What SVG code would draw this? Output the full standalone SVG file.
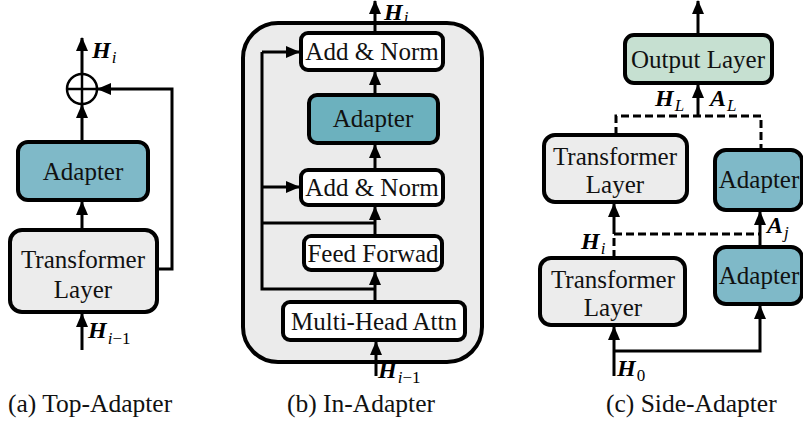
<svg xmlns="http://www.w3.org/2000/svg" width="803" height="423" viewBox="0 0 803 423">
<defs>
<marker id="ah" markerUnits="userSpaceOnUse" markerWidth="14" markerHeight="12" refX="13" refY="6" orient="auto">
<path d="M0,0 L14,6 L0,12 z" fill="#000"/>
</marker>
<style>
.box{stroke:#000;stroke-width:4}
.gray{fill:#ececec}
.white{fill:#fff}
.teal{fill:#7fb9c8}
.tealb{fill:#6cb1be}
.green{fill:#c6e0d1}
.t{font-family:"Liberation Serif","Times New Roman",serif;font-size:25px;fill:#111;text-anchor:middle}
.cap{font-family:"Liberation Serif","Times New Roman",serif;font-size:25.5px;fill:#111}
.m{font-family:"Liberation Serif","Times New Roman",serif;font-size:24px;font-weight:bold;font-style:italic;fill:#000}
.s{font-size:17px;font-weight:normal}
.ln{fill:none;stroke:#000;stroke-width:3}
.arr{fill:none;stroke:#000;stroke-width:3;marker-end:url(#ah)}
.dash{fill:none;stroke:#000;stroke-width:3;stroke-dasharray:8 4}
</style>
</defs>
<rect width="803" height="423" fill="#fff"/>

<!-- Panel a -->
<g id="a-transformer"><rect class="box gray" x="10" y="230" width="147" height="82" rx="12"/><text class="t" x="83" y="268">Transformer</text><text class="t" x="83" y="298">Layer</text></g>
<g id="a-adapter"><rect class="box teal" x="18" y="142" width="130" height="58" rx="10"/><text class="t" x="83" y="180">Adapter</text></g>
<g id="a-plus"><circle cx="82" cy="89" r="15" fill="#fff" stroke="#000" stroke-width="2.5"/><path d="M67,89 H97 M82,74 V104" stroke="#000" stroke-width="2.5"/></g>

<!-- Panel b -->
<g id="b-outer"><rect class="box" fill="#ebebeb" x="243" y="23" width="239" height="339" rx="35"/></g>
<g id="b-addnorm2"><rect class="box white" x="301" y="33" width="142" height="37" rx="7"/><text class="t" x="372" y="60">Add &amp; Norm</text></g>
<g id="b-adapter"><rect class="box tealb" x="309" y="95" width="129" height="48" rx="8"/><text class="t" x="373" y="127">Adapter</text></g>
<g id="b-addnorm1"><rect class="box white" x="301" y="170" width="142" height="35" rx="7"/><text class="t" x="372" y="196">Add &amp; Norm</text></g>
<g id="b-ff"><rect class="box white" x="304" y="236" width="138" height="34" rx="7"/><text class="t" x="373" y="262">Feed Forwad</text></g>
<g id="b-mha"><rect class="box white" x="283" y="302" width="182" height="38" rx="7"/><text class="t" x="374" y="330">Multi-Head Attn</text></g>

<!-- Panel c -->
<g id="c-output"><rect class="box green" x="625" y="35" width="147" height="48" rx="9"/><text class="t" x="698" y="68">Output Layer</text></g>
<g id="c-trans2"><rect class="box gray" x="544" y="135" width="143" height="67" rx="11"/><text class="t" x="615" y="165">Transformer</text><text class="t" x="615" y="193">Layer</text></g>
<g id="c-adapter2"><rect class="box teal" x="715" y="150" width="87" height="60" rx="11"/><text class="t" x="759" y="188">Adapter</text></g>
<g id="c-trans1"><rect class="box gray" x="540" y="258" width="145" height="67" rx="11"/><text class="t" x="613" y="288">Transformer</text><text class="t" x="613" y="316">Layer</text></g>
<g id="c-adapter1"><rect class="box teal" x="715" y="247" width="87" height="57" rx="11"/><text class="t" x="759" y="284">Adapter</text></g>

<g id="connectors">
<!-- a -->
<path class="arr" d="M82,350 V314"/>
<path class="arr" d="M82,230 V202"/>
<path class="arr" d="M82,142 V105"/>
<path class="arr" d="M82,74 V38"/>
<path class="arr" d="M157,269 H172 V89 H98"/>
<!-- b -->
<path class="arr" d="M376,376 V342"/>
<path class="arr" d="M375,302 V272"/>
<path class="arr" d="M375,236 V207"/>
<path class="arr" d="M375,170 V145"/>
<path class="arr" d="M375,95 V72"/>
<path class="arr" d="M375,33 V1"/>
<path class="ln" d="M375,289 H262 V52"/>
<path class="ln" d="M262,223 H375"/>
<path class="arr" d="M262,187 H299"/>
<path class="arr" d="M262,52 H299"/>
<!-- c -->
<path class="arr" d="M698,35 V1"/>
<path class="arr" d="M698,116 V85"/>
<path class="dash" d="M616,135 V116 H761 V150"/>
<path class="dash" d="M614,258 V234 H760"/>
<path class="arr" d="M614,234 V204"/>
<path class="arr" d="M760,247 V212"/>
<path class="arr" d="M614,376 V327"/>
<path class="arr" d="M614,351 H760 V306"/>
</g>

<!-- math labels -->
<text class="m" x="92" y="58">H<tspan class="s" dx="1" dy="5">i</tspan></text>
<text class="m" x="88" y="338">H<tspan class="s" dx="1" dy="6">i</tspan><tspan class="s" style="font-style:normal">−1</tspan></text>
<text class="m" x="384" y="20">H<tspan class="s" dx="1" dy="3">i</tspan></text>
<text class="m" x="378" y="378">H<tspan class="s" dx="1" dy="5">i</tspan><tspan class="s" style="font-style:normal">−1</tspan></text>
<text class="m" x="655" y="106">H<tspan class="s" dx="1" dy="5">L</tspan></text>
<text class="m" x="710" y="106">A<tspan class="s" dx="1" dy="5">L</tspan></text>
<text class="m" x="581" y="249">H<tspan class="s" dx="1" dy="5">i</tspan></text>
<text class="m" x="767" y="233">A<tspan class="s" dx="1" dy="5">j</tspan></text>
<text class="m" x="617" y="376">H<tspan class="s" dx="1" dy="5" style="font-style:normal">0</tspan></text>

<!-- captions -->
<text class="cap" x="8" y="412">(a) Top-Adapter</text>
<text class="cap" x="287" y="412">(b) In-Adapter</text>
<text class="cap" x="606" y="412">(c) Side-Adapter</text>
</svg>
